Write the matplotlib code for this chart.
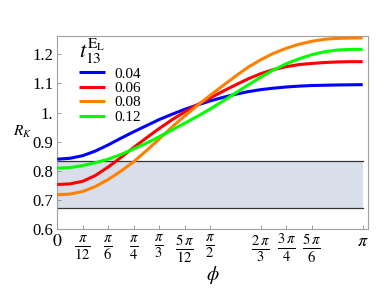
import numpy as np
import matplotlib
matplotlib.use("Agg")
import matplotlib.pyplot as plt

plt.rcParams['mathtext.fontset'] = 'stix'
plt.rcParams['font.family'] = ['Liberation Serif', 'DejaVu Serif']

# phi sampled at k*pi/24, k = 0..24
phi_k = list(range(25))
blue_04 = [0.840, 0.843, 0.852, 0.868, 0.889, 0.912, 0.934, 0.955, 0.976, 0.994, 1.011, 1.026, 1.040,
           1.052, 1.063, 1.072, 1.079, 1.084, 1.088, 1.091, 1.093, 1.094, 1.095, 1.0955, 1.096]
red_06 = [0.753, 0.755, 0.764, 0.784, 0.813, 0.846, 0.880, 0.913, 0.945, 0.975, 1.002, 1.027, 1.050,
          1.073, 1.095, 1.116, 1.134, 1.148, 1.158, 1.165, 1.169, 1.172, 1.174, 1.175, 1.175]
orange_08 = [0.718, 0.720, 0.729, 0.746, 0.770, 0.799, 0.831, 0.869, 0.909, 0.950, 0.988, 1.024, 1.059,
             1.092, 1.125, 1.156, 1.182, 1.204, 1.221, 1.235, 1.245, 1.252, 1.255, 1.256, 1.257]
green_12 = [0.809, 0.811, 0.818, 0.828, 0.840, 0.856, 0.875, 0.895, 0.917, 0.940, 0.963, 0.987, 1.012,
            1.039, 1.067, 1.095, 1.122, 1.147, 1.168, 1.185, 1.199, 1.209, 1.215, 1.217, 1.2175]
series_labels = ['0.04', '0.06', '0.08', '0.12']
series_colors = ['#0000ff', '#ff0000', '#ff8000', '#00ff00']

band_low = 0.671
band_high = 0.835

xtick_mult = [0, 1/12, 1/6, 1/4, 1/3, 5/12, 1/2, 2/3, 3/4, 5/6, 1]
xtick_labels = [r'$0$', r'$\frac{\pi}{12}$', r'$\frac{\pi}{6}$', r'$\frac{\pi}{4}$', r'$\frac{\pi}{3}$',
                r'$\frac{5\,\pi}{12}$', r'$\frac{\pi}{2}$', r'$\frac{2\,\pi}{3}$', r'$\frac{3\,\pi}{4}$',
                r'$\frac{5\,\pi}{6}$', r'$\pi$']
ytick_vals = [0.6, 0.7, 0.8, 0.9, 1.0, 1.1, 1.2]
ytick_labels = ['0.6', '0.7', '0.8', '0.9', '1.', '1.1', '1.2']

fig = plt.figure(figsize=(3.85, 2.98), dpi=100)
ax = fig.add_axes([57.3/385, 1-229/298, (368-57.3)/385, (229-36)/298])

phi = np.array(phi_k) * np.pi / 24

ax.fill_between([0, np.pi], [band_low]*2, [band_high]*2, color='#d8deea', lw=0, zorder=1)
ax.plot([0, np.pi], [band_low]*2, color='#333333', lw=0.9, zorder=2)
ax.plot([0, np.pi], [band_high]*2, color='#333333', lw=0.9, zorder=2)

handles = []
for ys, c, lab in zip([blue_04, red_06, orange_08, green_12], series_colors, series_labels):
    h, = ax.plot(phi, ys, color=c, lw=2.2, label=lab, zorder=3, solid_capstyle='butt',
                 solid_joinstyle='round')
    handles.append(h)

ax.set_xlim(0, np.pi * (368 - 57.3) / (362.7 - 57.3))
ax.set_ylim(0.6, 0.6 + (229 - 36) / 291.0)

ax.set_xticks([m * np.pi for m in xtick_mult])
ax.set_xticklabels(xtick_labels)
ax.set_yticks(ytick_vals)
ax.set_yticklabels(ytick_labels)

for lab in ax.get_xticklabels():
    lab.set_fontsize(15)
ax.get_xticklabels()[0].set_fontsize(13)
ax.get_xticklabels()[-1].set_fontsize(13)
for lab in ax.get_yticklabels():
    lab.set_fontsize(12)

ax.tick_params(axis='both', direction='in', length=3, width=0.6, color='#888888', pad=3)
for s in ax.spines.values():
    s.set_color('#a0a0a0')
    s.set_linewidth(0.8)

ax.set_xlabel(r'$\phi$', fontsize=14, va='center')
ax.xaxis.set_label_coords(0.5, -(275 - 229) / 193)
fig.text(23/385, 1-132/298, r'$R_K$', fontsize=11, ha='center', va='center')

leg = ax.legend(handles=handles, labels=series_labels, loc='upper left',
                bbox_to_anchor=((70-57.3)/(368-57.3), 1.045), frameon=False,
                fontsize=11, handlelength=1.7, handletextpad=0.6, labelspacing=0.05,
                borderaxespad=0.2, title=r'$t_{13}^{\mathrm{E}_\mathrm{L}}$',
                title_fontsize=16, alignment='left')

fig.savefig('out.png', dpi=100)
